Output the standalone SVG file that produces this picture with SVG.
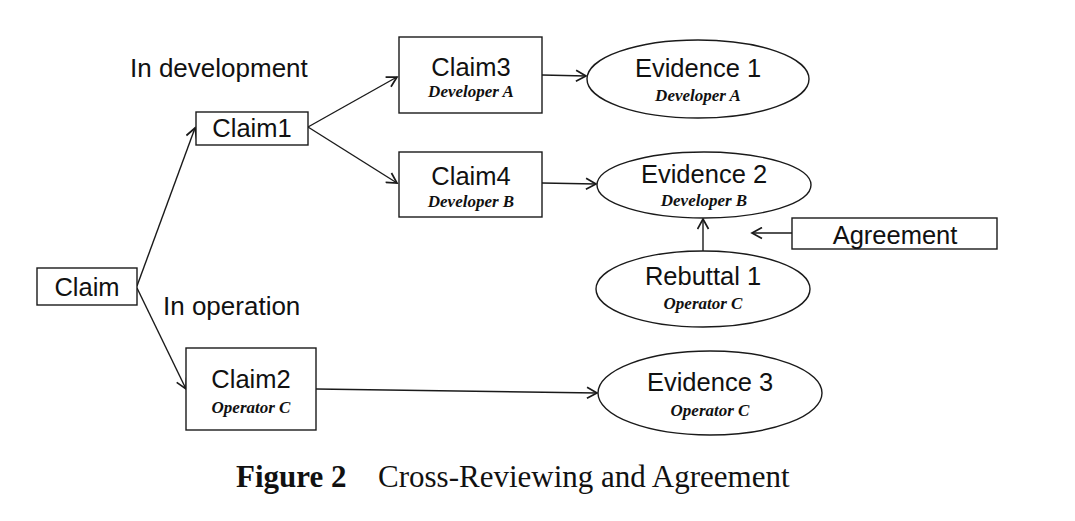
<svg xmlns="http://www.w3.org/2000/svg" width="1075" height="521" viewBox="0 0 1075 521">
<defs>
<marker id="arr" markerWidth="13" markerHeight="13" refX="11" refY="6.5" orient="auto" markerUnits="userSpaceOnUse">
<path d="M1,1 L11,6.5 L1,12" fill="none" stroke="#1a1a1a" stroke-width="1.7"/>
</marker>
<style>
.box{fill:#fff;stroke:#1a1a1a;stroke-width:1.4}
.t{font-family:"Liberation Sans",Arial,sans-serif;font-size:25.5px;fill:#111;text-anchor:middle}
.s{font-family:"Liberation Serif","Times New Roman",serif;font-size:17px;font-weight:bold;font-style:italic;fill:#111;text-anchor:middle}
.lbl{font-family:"Liberation Sans",Arial,sans-serif;font-size:26px;fill:#111}
.edge{fill:none;stroke:#1a1a1a;stroke-width:1.4;marker-end:url(#arr)}
</style>
</defs>
<rect width="1075" height="521" fill="#fff"/>
<text class="lbl" x="130" y="77">In development</text>
<text class="lbl" x="163" y="315">In operation</text>
<g id="connectors">
<line class="edge" x1="137" y1="286" x2="195" y2="128"/>
<line class="edge" x1="137" y1="288" x2="186" y2="389"/>
<line class="edge" x1="308" y1="127" x2="397" y2="77"/>
<line class="edge" x1="308" y1="127" x2="397" y2="183"/>
<line class="edge" x1="542" y1="75" x2="586" y2="76"/>
<line class="edge" x1="542" y1="183" x2="596" y2="184"/>
<line class="edge" x1="703" y1="251" x2="703" y2="219"/>
<line class="edge" x1="792" y1="233" x2="752" y2="233"/>
<line class="edge" x1="316" y1="389" x2="597" y2="393"/>
</g>
<g id="claim"><rect class="box" x="37" y="268" width="100" height="37"/><text class="t" x="87" y="296">Claim</text></g>
<g id="claim1"><rect class="box" x="196" y="112" width="112" height="33"/><text class="t" x="252" y="137">Claim1</text></g>
<g id="claim3"><rect class="box" x="399" y="37" width="143" height="76"/><text class="t" x="471" y="76">Claim3</text><text class="s" x="471" y="97">Developer A</text></g>
<g id="claim4"><rect class="box" x="399" y="152" width="143" height="65"/><text class="t" x="471" y="185">Claim4</text><text class="s" x="471" y="207">Developer B</text></g>
<g id="claim2"><rect class="box" x="186" y="348" width="130" height="82"/><text class="t" x="251" y="388">Claim2</text><text class="s" x="251" y="413">Operator C</text></g>
<g id="evidence1"><ellipse class="box" cx="698" cy="79" rx="111" ry="39"/><text class="t" x="698" y="77">Evidence 1</text><text class="s" x="698" y="101">Developer A</text></g>
<g id="evidence2"><ellipse class="box" cx="704" cy="185" rx="107" ry="33"/><text class="t" x="704" y="183">Evidence 2</text><text class="s" x="704" y="206">Developer B</text></g>
<g id="rebuttal1"><ellipse class="box" cx="703" cy="289" rx="107" ry="38"/><text class="t" x="703" y="285">Rebuttal 1</text><text class="s" x="703" y="309">Operator C</text></g>
<g id="evidence3"><ellipse class="box" cx="710" cy="393" rx="112" ry="42"/><text class="t" x="710" y="391">Evidence 3</text><text class="s" x="710" y="416">Operator C</text></g>
<g id="agreement"><rect class="box" x="792" y="218" width="205" height="31"/><text class="t" x="895" y="244">Agreement</text></g>
<text x="236" y="487" font-family="'Liberation Serif','Times New Roman',serif" font-size="31" fill="#111"><tspan font-weight="bold">Figure 2</tspan><tspan x="378">Cross-Reviewing and Agreement</tspan></text>
</svg>
